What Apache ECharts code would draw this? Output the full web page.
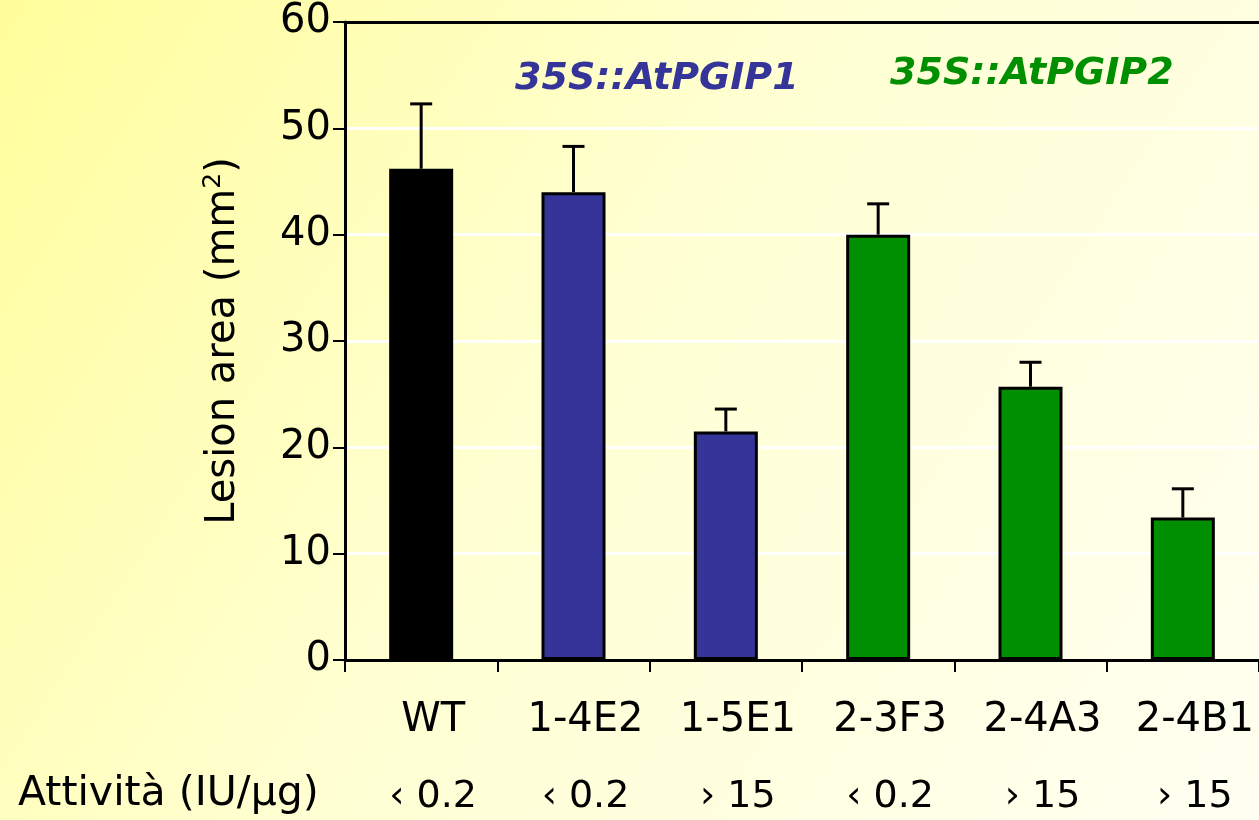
<!DOCTYPE html>
<html>
<head>
<meta charset="utf-8">
<script src="https://cdn.jsdelivr.net/npm/echarts@6/dist/echarts.min.js"></script>
<style>
html,body{margin:0;padding:0;}
#chart{width:1259px;height:820px;}
</style>
</head>
<body>
<div id="chart"></div>
<script>
const categories = ['WT', '1-4E2', '1-5E1', '2-3F3', '2-4A3', '2-4B1'];
const lesionArea = [46.2, 44.0, 21.5, 40.0, 25.7, 13.4];
const errorUpper = [52.3, 48.3, 23.6, 42.9, 28.0, 16.1];
const activity = ['‹ 0.2', '‹ 0.2', '› 15', '‹ 0.2', '› 15', '› 15'];
const barColors = ['#000000', '#343499', '#343499', '#008f00', '#008f00', '#008f00'];
const yTicks = { min: 0, max: 60, interval: 10 };

const FONT = 'DejaVu Sans';
const chart = echarts.init(document.getElementById('chart'));

const option = {
  backgroundColor: {
    type: 'linear', x: 0, y: 0, x2: 1, y2: 1,
    colorStops: [
      { offset: 0, color: '#fffd9a' },
      { offset: 0.45, color: '#ffffd2' },
      { offset: 1, color: '#fffff2' }
    ]
  },
  animation: false,
  textStyle: { fontFamily: FONT },
  grid: { left: 345, right: 0, top: 22, bottom: 160 },
  xAxis: [
    {
      type: 'category',
      data: categories,
      axisLine: { lineStyle: { color: '#000', width: 3 } },
      axisTick: { show: true, length: 12, lineStyle: { color: '#000', width: 2 } },
      axisLabel: {
        margin: 22,
        color: '#000',
        padding: [0, 0, 0, 24],
        formatter: function (v, i) { return '{n|' + v + '}\n{v|' + activity[i] + '}'; },
        rich: {
          n: { fontSize: 40, lineHeight: 77, color: '#000', fontFamily: FONT },
          v: { fontSize: 38, lineHeight: 77, color: '#000', fontFamily: FONT }
        }
      }
    },
    {
      type: 'category',
      position: 'top',
      data: categories,
      axisLine: { show: true, lineStyle: { color: '#000', width: 3 } },
      axisTick: { show: false },
      axisLabel: { show: false }
    }
  ],
  yAxis: {
    type: 'value',
    min: yTicks.min, max: yTicks.max, interval: yTicks.interval,
    name: '{a|Lesion area (mm}{s|2}{a|)}',
    nameLocation: 'middle',
    nameGap: 98,
    nameRotate: 90,
    nameTextStyle: {
      rich: {
        a: { fontSize: 40, color: '#000', fontFamily: FONT, lineHeight: 46 },
        s: { fontSize: 25, color: '#000', fontFamily: FONT, verticalAlign: 'top', lineHeight: 46 }
      }
    },
    axisLine: { show: true, lineStyle: { color: '#000', width: 3 } },
    axisTick: { show: true, length: 12, lineStyle: { color: '#000', width: 2 } },
    axisLabel: { margin: 14, fontSize: 40, color: '#000', fontFamily: FONT },
    splitLine: { show: true, lineStyle: { color: '#ffffff', width: 3 } }
  },
  series: [
    {
      type: 'bar',
      data: lesionArea.map(function (v, i) {
        return { value: v, itemStyle: { color: barColors[i] } };
      }),
      barWidth: 64,
      itemStyle: { borderColor: '#000', borderWidth: 3 },
      z: 2
    },
    {
      type: 'custom',
      data: lesionArea.map(function (v, i) { return [i, v, errorUpper[i]]; }),
      renderItem: function (params, api) {
        const base = api.coord([api.value(0), api.value(1)]);
        const top = api.coord([api.value(0), api.value(2)]);
        const half = 11;
        const st = { stroke: '#000', lineWidth: 3 };
        return {
          type: 'group',
          children: [
            { type: 'line', shape: { x1: base[0], y1: base[1], x2: top[0], y2: top[1] }, style: st },
            { type: 'line', shape: { x1: top[0] - half, y1: top[1], x2: top[0] + half, y2: top[1] }, style: st }
          ]
        };
      },
      z: 3
    }
  ],
  graphic: [
    {
      type: 'text', left: 515, top: 60,
      style: {
        text: '35S::AtPGIP1', fontSize: 38, fontWeight: 'bold', fontStyle: 'italic',
        fontFamily: FONT, fill: '#343499'
      }
    },
    {
      type: 'text', left: 890, top: 55,
      style: {
        text: '35S::AtPGIP2', fontSize: 38, fontWeight: 'bold', fontStyle: 'italic',
        fontFamily: FONT, fill: '#008f00'
      }
    },
    {
      type: 'text', left: 18, top: 774,
      style: {
        text: 'Attività (IU/µg)', fontSize: 41, fontFamily: FONT, fill: '#000'
      }
    }
  ]
};
chart.setOption(option);
</script>
</body>
</html>
